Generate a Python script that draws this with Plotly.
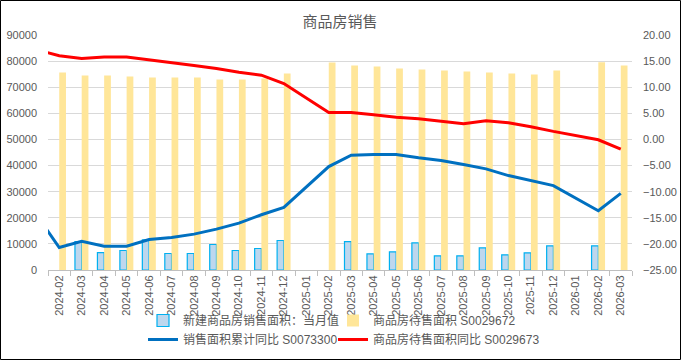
import plotly.graph_objects as go

# ---------------- data ----------------
months = ["2024-02", "2024-03", "2024-04", "2024-05", "2024-06", "2024-07", "2024-08",
          "2024-09", "2024-10", "2024-11", "2024-12", "2025-01", "2025-02", "2025-03",
          "2025-04", "2025-05", "2025-06", "2025-07", "2025-08", "2025-09", "2025-10",
          "2025-11", "2025-12", "2026-01", "2026-02", "2026-03"]
prior_month = "2024-01"   # point just left of the visible axis (line enters from the edge)

new_sales_monthly = [None, 10900, 6650, 7470, 11500, 6320, 6320, 9770, 7470, 8230, 11300, None,
                     None, 10900, 6200, 6970, 10400, 5440, 5440, 8500, 5820, 6590, 9270, None,
                     9270, None]

inventory_area = [75640, 74490, 74490, 74110, 73730, 73730, 73730, 72960, 72960, 73340, 75260, None,
                  79470, 78320, 77940, 77170, 76790, 76410, 76030, 75640, 75260, 74880, 76410, None,
                  79590, 78320]

sales_cum_yoy_prior = -14.5
sales_cum_yoy = [-20.7, -19.5, -20.44, -20.44, -19.17, -18.79, -18.13, -17.17, -16.02, -14.42, -13.02, None,
                 -5.19, -3.02, -2.88, -2.88, -3.52, -4.04, -4.81, -5.63, -6.92, -7.83, -8.85, None,
                 -13.65, -10.33]

inventory_yoy_prior = 17.2
inventory_yoy = [16.02, 15.52, 15.77, 15.77, 15.19, 14.67, 14.17, 13.6, 12.88, 12.31, 10.71, None,
                 5.15, 5.15, 4.75, 4.23, 3.98, 3.46, 3.02, 3.6, 3.21, 2.44, 1.54, None,
                 -0.06, -1.87]

names = ["新建商品房销售面积：当月值", "商品房待售面积 S0029672",
         "销售面积累计同比 S0073300", "商品房待售面积同比 S0029673"]

# ---------------- figure ----------------
W, H = 681, 360
ML, MR, MT, MB = 48, 49, 35, 90
PW, PH = W - ML - MR, H - MT - MB

FONT = "Liberation Sans, Noto Sans CJK SC, sans-serif"
GREY = "#595959"

fig = go.Figure()
fig.add_trace(go.Bar(x=months, y=new_sales_monthly, name=names[0],
                     marker=dict(color="#BDD7EE", line=dict(color="#00B0F0", width=1.2)),
                     yaxis="y", legend="legend", legendgroup="a"))
fig.add_trace(go.Bar(x=months, y=inventory_area, name=names[1],
                     marker=dict(color="#FFE699", line=dict(width=0)),
                     yaxis="y", legend="legend2", legendgroup="b"))
fig.add_trace(go.Scatter(x=[prior_month] + months, y=[sales_cum_yoy_prior] + sales_cum_yoy,
                         name=names[2], mode="lines", connectgaps=True,
                         line=dict(color="#0070C0", width=3), yaxis="y2",
                         legend="legend", legendgroup="c"))
fig.add_trace(go.Scatter(x=[prior_month] + months, y=[inventory_yoy_prior] + inventory_yoy,
                         name=names[3], mode="lines", connectgaps=True,
                         line=dict(color="#FF0000", width=3), yaxis="y2",
                         legend="legend2", legendgroup="d"))

legend_common = dict(orientation="v", xanchor="left", yanchor="top",
                     y=-(306 - (MT + PH)) / PH,
                     font=dict(size=12, color=GREY, family=FONT),
                     itemwidth=30, tracegroupgap=3, traceorder="normal",
                     bgcolor="rgba(0,0,0,0)")

fig.update_layout(
    width=W, height=H,
    margin=dict(l=ML, r=MR, t=MT, b=MB, pad=0, autoexpand=False),
    paper_bgcolor="white", plot_bgcolor="white",
    font=dict(family=FONT, size=11, color=GREY),
    title=dict(text="商品房销售", x=0.5, xanchor="center", xref="paper",
               y=1 - 22 / H, yanchor="middle",
               font=dict(size=15, color=GREY, family=FONT)),
    barmode="group", bargap=0.4, bargroupgap=0,
    showlegend=True,
    legend=dict(legend_common, x=(143 - ML) / PW),
    legend2=dict(legend_common, x=(333 - ML) / PW),
    xaxis=dict(type="category", categoryorder="array",
               categoryarray=[prior_month] + months,
               range=[0.5, len(months) + 0.5],
               tickson="boundaries", ticks="outside", ticklen=5, tickcolor="#BFBFBF",
               showline=True, linecolor="#BFBFBF", linewidth=1,
               showgrid=False, tickangle=-90, automargin=False,
               tickfont=dict(size=11, color=GREY)),
    yaxis=dict(range=[0, 90000], tickmode="linear", tick0=0, dtick=10000, tickformat="d",
               showgrid=True, gridcolor="#D9D9D9", gridwidth=1, zeroline=False,
               showline=False, ticks="", ticklabelstandoff=10, automargin=False,
               tickfont=dict(size=11, color=GREY)),
    yaxis2=dict(range=[-25, 20], tickmode="linear", tick0=0, dtick=5, tickformat=".2f",
                overlaying="y", side="right", showgrid=False, zeroline=False,
                showline=False, ticks="", ticklabelstandoff=10, automargin=False,
                tickfont=dict(size=11, color=GREY)),
)

# outer chart border
fig.add_shape(type="rect", xref="paper", yref="paper",
              x0=(-ML + 0.5) / PW, x1=(PW + MR - 0.5) / PW,
              y0=(-MB + 0.5) / PH, y1=(PH + MT - 0.5) / PH,
              line=dict(color="black", width=1), fillcolor="rgba(0,0,0,0)", layer="above")

fig.write_html("out.html",
               config={"displayModeBar": False},
               post_script="document.body.style.margin='0px';document.body.style.overflow='hidden';")
